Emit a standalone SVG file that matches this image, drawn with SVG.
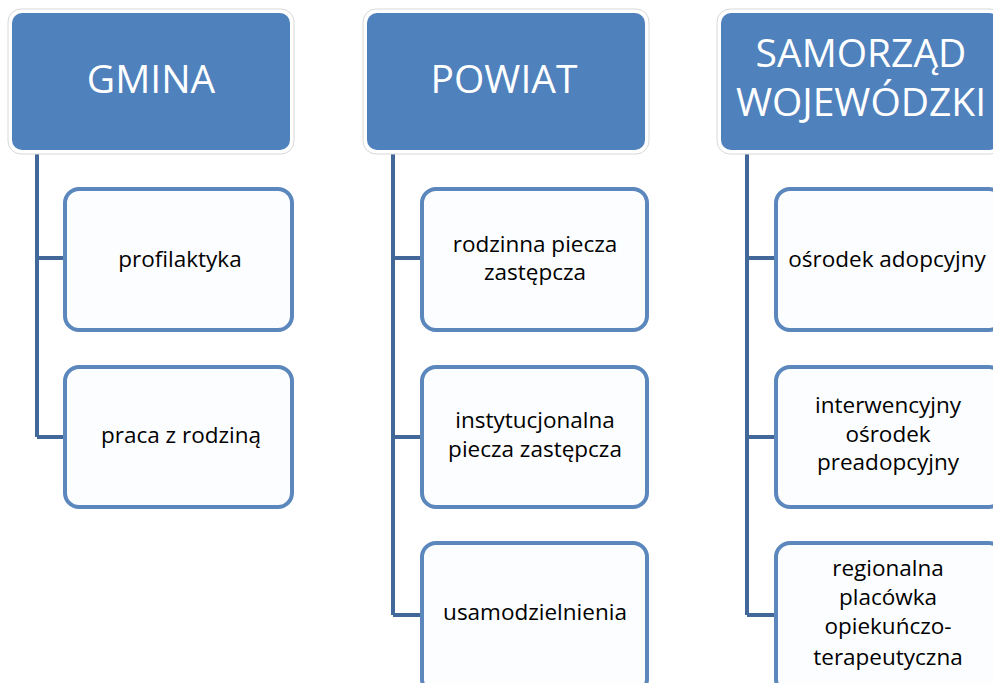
<svg xmlns="http://www.w3.org/2000/svg" width="993" height="683" viewBox="0 0 993 683">
<style>
.outer{fill:#ffffff;stroke:#d8d8d8;stroke-width:1}
.head{fill:#4f81bd}
.htxt{font-family:"Open Sans","Noto Sans",sans-serif;font-size:39px;fill:#ffffff;text-anchor:middle}
.box{fill:#fcfdfe;stroke:#5b87bd;stroke-width:4}
.txt{font-family:"Open Sans","Noto Sans",sans-serif;font-size:22.5px;fill:#000000;text-anchor:middle}
.conn{fill:none;stroke:#42689a;stroke-width:4}
</style>
<rect width="993" height="683" fill="#ffffff"/>
<g id="connectors">
<path class="conn" d="M37,152 V437 M37,258 H63 M37,437 H63"/>
<path class="conn" d="M393,152 V615 M393,258 H420 M393,437 H420 M393,615 H420"/>
<path class="conn" d="M747,152 V615 M747,258 H774 M747,437 H774 M747,615 H774"/>
</g>
<g id="gmina">
<rect class="outer" x="8" y="9" width="286" height="145" rx="13"/>
<rect class="head" x="12" y="13" width="278" height="137" rx="10"/>
<text class="htxt" x="151" y="93">GMINA</text>
</g>
<g id="powiat">
<rect class="outer" x="363" y="9" width="286" height="145" rx="13"/>
<rect class="head" x="367" y="13" width="278" height="137" rx="10"/>
<text class="htxt" x="504" y="93">POWIAT</text>
</g>
<g id="samorzad">
<rect class="outer" x="717" y="9" width="286" height="145" rx="13"/>
<rect class="head" x="721" y="13" width="278" height="137" rx="10"/>
<text class="htxt" x="861" y="67">SAMORZĄD</text>
<text class="htxt" x="861" y="116">WOJEWÓDZKI</text>
</g>
<g id="profilaktyka">
<rect class="box" x="65" y="189" width="227" height="141" rx="14"/>
<text class="txt" x="180" y="267">profilaktyka</text>
</g>
<g id="praca">
<rect class="box" x="65" y="367" width="227" height="140" rx="14"/>
<text class="txt" x="181" y="443">praca z rodziną</text>
</g>
<g id="rodzinna">
<rect class="box" x="422" y="189" width="225" height="141" rx="14"/>
<text class="txt" x="535" y="252">rodzinna piecza</text>
<text class="txt" x="535" y="280">zastępcza</text>
</g>
<g id="instytucjonalna">
<rect class="box" x="422" y="367" width="225" height="140" rx="14"/>
<text class="txt" x="535" y="428">instytucjonalna</text>
<text class="txt" x="535" y="457">piecza zastępcza</text>
</g>
<g id="usamodzielnienia">
<rect class="box" x="422" y="543" width="225" height="150" rx="14"/>
<text class="txt" x="535" y="620">usamodzielnienia</text>
</g>
<g id="osrodek">
<rect class="box" x="776" y="189" width="227" height="141" rx="14"/>
<text class="txt" x="887" y="267">ośrodek adopcyjny</text>
</g>
<g id="interwencyjny">
<rect class="box" x="776" y="367" width="227" height="140" rx="14"/>
<text class="txt" x="888" y="413">interwencyjny</text>
<text class="txt" x="888" y="442">ośrodek</text>
<text class="txt" x="888" y="470">preadopcyjny</text>
</g>
<g id="regionalna">
<rect class="box" x="776" y="543" width="227" height="150" rx="14"/>
<text class="txt" x="888" y="576">regionalna</text>
<text class="txt" x="888" y="605">placówka</text>
<text class="txt" x="888" y="634">opiekuńczo-</text>
<text class="txt" x="888" y="665">terapeutyczna</text>
</g>
</svg>
